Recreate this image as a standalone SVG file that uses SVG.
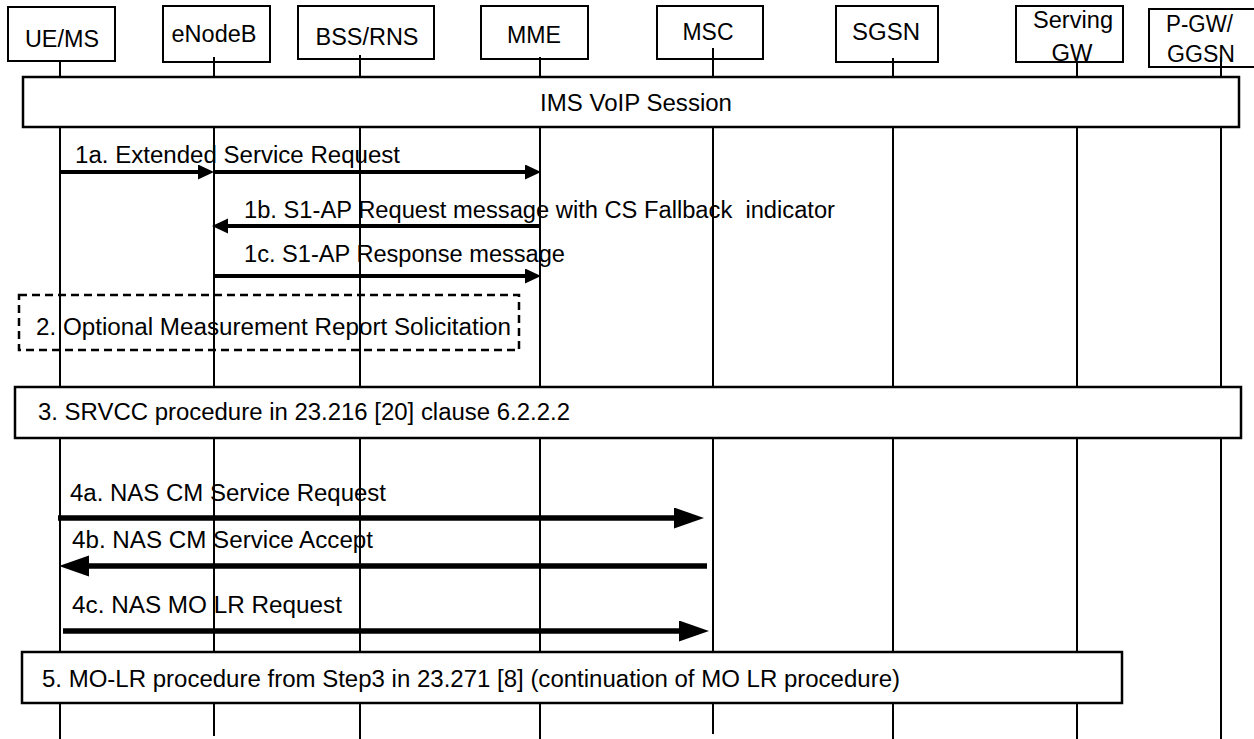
<svg xmlns="http://www.w3.org/2000/svg" width="1254" height="739" viewBox="0 0 1254 739">
<style>
text{font-family:"Liberation Sans",Arial,sans-serif;font-size:23px;fill:#000}
.hdr{fill:#fff;stroke:#000;stroke-width:2}
.life{stroke:#000;stroke-width:2;fill:none}
.box{fill:#fff;stroke:#000;stroke-width:2.5}
.dash{fill:none;stroke:#000;stroke-width:2.5;stroke-dasharray:8 5}
.msg{stroke:#000;stroke-width:4;fill:none;marker-end:url(#ah)}
.msg2{stroke:#000;stroke-width:5.5;fill:none;marker-end:url(#ahL)}
.c{text-anchor:middle}
</style>
<defs>
<marker id="ah" markerUnits="userSpaceOnUse" markerWidth="16" markerHeight="16" refX="5" refY="7.5" orient="auto"><path d="M0,0 L16,7.5 L0,15 z" fill="#000"/></marker>
<marker id="ahL" markerUnits="userSpaceOnUse" markerWidth="32" markerHeight="24" refX="10" refY="10.5" orient="auto"><path d="M0,0 L30,10.5 L0,21 z" fill="#000"/></marker>
</defs>
<g id="ue"><rect class="hdr" x="8" y="7" width="107" height="54"/><text class="c" x="62" y="47" textLength="74" lengthAdjust="spacingAndGlyphs">UE/MS</text></g>
<g id="enb"><rect class="hdr" x="163" y="6" width="107" height="56"/><text class="c" x="214" y="42" textLength="85" lengthAdjust="spacingAndGlyphs">eNodeB</text></g>
<g id="bss"><rect class="hdr" x="298" y="6" width="136" height="53"/><text class="c" x="367" y="45" textLength="103" lengthAdjust="spacingAndGlyphs">BSS/RNS</text></g>
<g id="mme"><rect class="hdr" x="481" y="6" width="107" height="53"/><text class="c" x="534" y="43" textLength="54" lengthAdjust="spacingAndGlyphs">MME</text></g>
<g id="msc"><rect class="hdr" x="657" y="6" width="106" height="53"/><text class="c" x="708" y="40" textLength="51" lengthAdjust="spacingAndGlyphs">MSC</text></g>
<g id="sgsn"><rect class="hdr" x="836" y="6" width="102" height="56"/><text class="c" x="886" y="40" textLength="68" lengthAdjust="spacingAndGlyphs">SGSN</text></g>
<g id="sgw"><rect class="hdr" x="1016" y="6" width="107" height="56"/><text class="c" x="1073" y="28" textLength="80" lengthAdjust="spacingAndGlyphs">Serving</text><text class="c" x="1072" y="61" textLength="41" lengthAdjust="spacingAndGlyphs">GW</text></g>
<g id="pgw"><rect class="hdr" x="1149" y="9" width="120" height="58"/><text x="1166" y="32" textLength="67" lengthAdjust="spacingAndGlyphs">P-GW/</text><text x="1167" y="62" textLength="68" lengthAdjust="spacingAndGlyphs">GGSN</text></g>
<g id="connectors">
<line class="life" x1="60" y1="61" x2="60" y2="739"/>
<line class="life" x1="214" y1="57" x2="214" y2="736"/>
<line class="life" x1="360" y1="55" x2="360" y2="739"/>
<line class="life" x1="540" y1="57" x2="540" y2="739"/>
<line class="life" x1="713" y1="48" x2="713" y2="734"/>
<line class="life" x1="893" y1="58" x2="893" y2="739"/>
<line class="life" x1="1077" y1="62" x2="1077" y2="739"/>
<line class="life" x1="1221" y1="57" x2="1221" y2="739"/>
<line class="msg" x1="60" y1="172" x2="203" y2="172"/>
<line class="msg" x1="214" y1="172" x2="530" y2="172"/>
<line class="msg" x1="541" y1="226" x2="223" y2="226"/>
<line class="msg" x1="214" y1="276" x2="530" y2="276"/>
<line class="msg2" x1="58" y1="518" x2="684" y2="518"/>
<line class="msg2" x1="707" y1="566" x2="79" y2="566"/>
<line class="msg2" x1="63" y1="631" x2="689" y2="631"/>
</g>
<g id="ims"><rect class="box" x="23" y="77" width="1216" height="50"/><text class="c" x="636" y="111" textLength="192" lengthAdjust="spacingAndGlyphs">IMS VoIP Session</text></g>
<g id="m1a"><text x="75" y="163" textLength="325" lengthAdjust="spacingAndGlyphs">1a. Extended Service Request</text></g>
<g id="m1b"><text x="244" y="218" textLength="591" lengthAdjust="spacingAndGlyphs" xml:space="preserve">1b. S1-AP Request message with CS Fallback  indicator</text></g>
<g id="m1c"><text x="244" y="262" textLength="321" lengthAdjust="spacingAndGlyphs">1c. S1-AP Response message</text></g>
<g id="step2"><rect class="dash" x="19" y="295" width="500" height="55"/><text x="36" y="335" textLength="475" lengthAdjust="spacingAndGlyphs">2. Optional Measurement Report Solicitation</text></g>
<g id="step3"><rect class="box" x="15" y="387" width="1226" height="51"/><text x="38" y="420" textLength="532" lengthAdjust="spacingAndGlyphs">3. SRVCC procedure in 23.216 [20] clause 6.2.2.2</text></g>
<g id="m4a"><text x="70" y="501" textLength="316" lengthAdjust="spacingAndGlyphs">4a. NAS CM Service Request</text></g>
<g id="m4b"><text x="72" y="548" textLength="301" lengthAdjust="spacingAndGlyphs">4b. NAS CM Service Accept</text></g>
<g id="m4c"><text x="72" y="613" textLength="270" lengthAdjust="spacingAndGlyphs">4c. NAS MO LR Request</text></g>
<g id="step5"><rect class="box" x="22" y="652" width="1100" height="51"/><text x="42" y="687" textLength="858" lengthAdjust="spacingAndGlyphs">5. MO-LR procedure from Step3 in 23.271 [8] (continuation of MO LR procedure)</text></g>
</svg>
